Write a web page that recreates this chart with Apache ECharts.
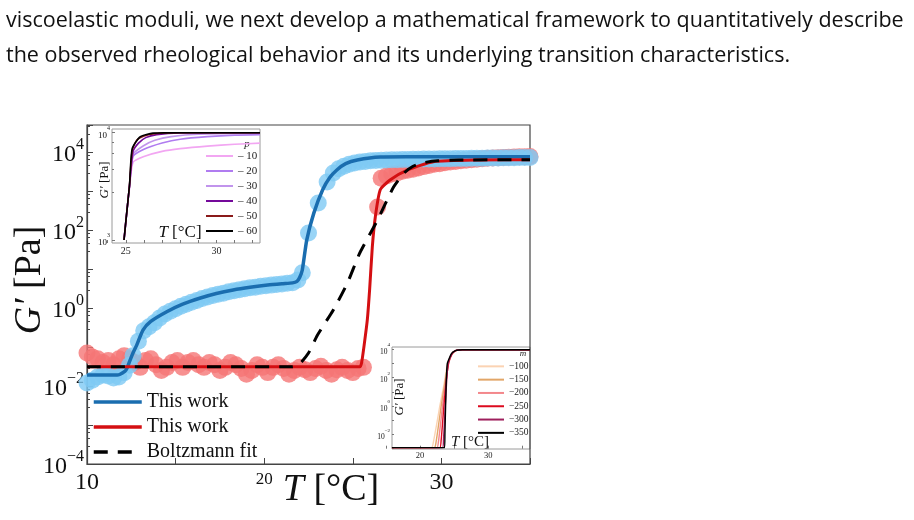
<!DOCTYPE html>
<html>
<head>
<meta charset="utf-8">
<title>G' vs T</title>
<script src="https://cdn.jsdelivr.net/npm/echarts@6/dist/echarts.min.js"></script>
<style>
  html, body { margin: 0; padding: 0; background: #fff; }
  #chart { width: 914px; height: 520px; }
</style>
</head>
<body>
<div id="chart"></div>
<script>
// ---- values: [T (°C), G' (Pa)] ----
const blueDots = [
  [10.0, 0.012], [10.3, 0.014], [10.6, 0.017], [10.9, 0.019], [11.2, 0.018], [11.5, 0.016],
  [11.8, 0.017], [12.1, 0.022], [12.4, 0.034], [12.6, 0.06], [12.9, 0.14], [13.2, 0.26],
  [13.5, 0.33], [13.8, 0.42], [14.1, 0.55], [14.4, 0.7], [14.7, 0.82], [15.0, 0.95],
  [15.3, 1.1], [15.6, 1.25], [15.9, 1.4], [16.2, 1.55], [16.5, 1.75], [16.8, 1.9],
  [17.1, 2.1], [17.4, 2.25], [17.7, 2.4], [18.0, 2.6], [18.3, 2.75], [18.6, 2.95],
  [18.9, 3.1], [19.2, 3.3], [19.5, 3.4], [19.8, 3.6], [20.1, 3.7], [20.4, 3.85],
  [20.7, 4.0], [21.0, 4.1], [21.3, 4.3], [21.6, 4.4], [21.9, 5.2], [22.15, 8],
  [22.5, 83], [23.05, 490], [23.55, 1700], [23.9, 2900], [24.2, 3700], [24.5, 4300],
  [24.8, 4800], [25.1, 5200], [25.4, 5500], [25.7, 5700], [26.0, 5900], [26.3, 6000],
  [26.6, 6100], [26.9, 6200], [27.2, 6300], [27.5, 6300], [27.8, 6400], [28.1, 6400],
  [28.4, 6500], [28.7, 6500], [29.0, 6600], [29.3, 6600], [29.6, 6600], [29.9, 6700],
  [30.2, 6700], [30.5, 6700], [30.8, 6800], [31.1, 6800], [31.4, 6800], [31.7, 6900],
  [32.0, 6900], [32.3, 6900], [32.6, 7000], [32.9, 7000], [33.2, 7000], [33.5, 7100],
  [33.8, 7100], [34.1, 7100], [34.4, 7200], [34.7, 7200], [35.0, 7200]
];
const redDots = [
  [10.0, 0.07], [10.3, 0.055], [10.6, 0.05], [10.9, 0.04], [11.2, 0.045], [11.5, 0.035],
  [11.8, 0.05], [12.1, 0.06], [12.4, 0.05], [12.7, 0.04], [13.0, 0.03], [13.3, 0.045],
  [13.6, 0.05], [13.9, 0.035], [14.2, 0.025], [14.5, 0.03], [14.8, 0.04], [15.1, 0.045],
  [15.4, 0.03], [15.7, 0.04], [16.0, 0.045], [16.3, 0.035], [16.6, 0.03], [16.9, 0.04],
  [17.2, 0.035], [17.5, 0.025], [17.8, 0.03], [18.1, 0.04], [18.4, 0.035], [18.7, 0.028],
  [19.0, 0.02], [19.3, 0.025], [19.6, 0.035], [19.9, 0.03], [20.2, 0.022], [20.5, 0.03],
  [20.8, 0.035], [21.1, 0.028], [21.4, 0.02], [21.7, 0.025], [22.0, 0.03], [22.3, 0.026],
  [22.6, 0.022], [22.9, 0.028], [23.2, 0.032], [23.5, 0.025], [23.8, 0.02], [24.1, 0.026],
  [24.4, 0.03], [24.7, 0.025], [25.0, 0.022], [25.3, 0.028], [25.6, 0.03],
  [26.4, 390], [26.6, 2100], [26.9, 2400], [27.2, 2700], [27.5, 2900], [27.8, 3200],
  [28.1, 3400], [28.4, 3600], [28.7, 3900], [29.0, 4200], [29.3, 4500], [29.6, 4800],
  [29.9, 5000], [30.2, 5300], [30.5, 5500], [30.8, 5700], [31.1, 5900], [31.4, 6100],
  [31.7, 6300], [32.0, 6500], [32.3, 6700], [32.6, 6900], [32.9, 7000], [33.2, 7100],
  [33.5, 7200], [33.8, 7300], [34.1, 7400], [34.4, 7500], [34.7, 7500], [35.0, 7600]
];
const blueFit = [
  [10, 0.019], [11.7, 0.019], [12.15, 0.024], [12.26, 0.029], [12.4, 0.042], [12.6, 0.071],
  [12.8, 0.11], [13.16, 0.27], [13.6, 0.45], [14.5, 0.8], [15.4, 1.25], [16.4, 1.8],
  [17.3, 2.35], [18.25, 2.9], [19.2, 3.4], [20.2, 3.9], [21.0, 4.2], [21.6, 4.4],
  [21.85, 4.8], [22.0, 6], [22.15, 9.4], [22.4, 55], [22.8, 270], [23.3, 1070],
  [23.7, 2200], [24.1, 3450], [24.6, 5000], [25.25, 6200], [26.55, 7400], [28, 7500], [35, 7500]
];
const redFit = [
  [10, 0.031], [25.4, 0.031], [25.5, 0.04], [25.65, 0.12], [25.82, 0.5], [25.95, 3],
  [26.1, 36], [26.27, 214], [26.55, 1070], [27.1, 1900], [28.1, 3450], [29.55, 5600],
  [32.2, 6200], [35, 6300]
];
const boltzmannFit = [
  [10, 0.031], [21.6, 0.031], [22.0, 0.037], [22.5, 0.07], [23.0, 0.2], [23.9, 0.89],
  [24.7, 4.4], [25.4, 26], [26.4, 180], [27.3, 1260], [27.9, 2900], [28.4, 4300],
  [29.0, 5300], [29.8, 5900], [31, 6200], [35, 6300]
];

// inset 1 (p series)
const pNames = ['– 10', '– 20', '– 30', '– 40', '– 50', '– 60'];
const pColors = ['#f2a6f2', '#b07cf0', '#c194ec', '#74099a', '#8a1a1a', '#000000'];
const pCurves = [
  [[24.9, 1000], [25.05, 1800], [25.2, 3000], [25.4, 5300], [26, 6000], [27, 6700], [28, 7100], [29.5, 7500], [31, 7800], [32.4, 8000]],
  [[24.9, 1000], [25.05, 1800], [25.2, 3100], [25.4, 6000], [26, 7000], [27, 8000], [28, 8700], [29.5, 9200], [31, 9500], [32.4, 9600]],
  [[24.9, 1000], [25.05, 1800], [25.2, 3150], [25.4, 6300], [26, 7600], [26.6, 8500], [27.5, 9200], [29, 9700], [32.4, 9900]],
  [[24.9, 1000], [25.05, 1800], [25.2, 3200], [25.4, 6700], [25.7, 8000], [26.1, 9000], [26.7, 9600], [28, 9950], [32.4, 10000]],
  [[24.9, 1000], [25.05, 1800], [25.2, 3200], [25.35, 6800], [25.6, 8500], [26, 9300], [26.6, 9800], [28, 10000], [32.4, 10000]],
  [[24.9, 1000], [25.05, 1800], [25.2, 3200], [25.35, 7100], [25.8, 9200], [26.5, 9900], [28, 10000], [32.4, 10000]]
];

// inset 2 (m series)
const mNames = ['−100', '−150', '−200', '−250', '−300', '−350'];
const mColors = ['#fbd3b3', '#e2a668', '#f3878b', '#dc0a1e', '#9e1f5c', '#000000'];
const mCurves = [
  [[15.9, 0.0012], [21.7, 0.0012], [21.9, 0.002], [22.4, 0.04], [22.9, 1], [23.5, 30], [24.0, 800], [24.5, 3500], [25.0, 7000], [25.5, 8800], [26.2, 9200], [36.1, 9200]],
  [[15.9, 0.0012], [22.1, 0.0012], [22.3, 0.002], [22.7, 0.04], [23.1, 1], [23.6, 30], [24.1, 900], [24.6, 4000], [25.1, 7500], [25.6, 8800], [26.2, 9200], [36.1, 9200]],
  [[15.9, 0.0012], [22.5, 0.0012], [22.7, 0.003], [23.0, 0.05], [23.3, 1], [23.7, 30], [24.2, 1000], [24.7, 4500], [25.2, 7800], [25.7, 8900], [26.2, 9200], [36.1, 9200]],
  [[15.9, 0.0012], [22.9, 0.0012], [23.1, 0.004], [23.3, 0.06], [23.5, 1], [23.8, 40], [24.2, 1200], [24.7, 5000], [25.2, 8000], [25.7, 9000], [26.2, 9200], [36.1, 9200]],
  [[15.9, 0.0012], [23.3, 0.0012], [23.45, 0.005], [23.6, 0.1], [23.7, 1], [23.9, 50], [24.1, 1000], [24.7, 5200], [25.2, 8100], [25.7, 9000], [26.2, 9200], [36.1, 9200]],
  [[15.9, 0.0012], [23.6, 0.0012], [23.65, 0.01], [23.75, 1], [23.85, 60], [24.0, 1000], [24.6, 5000], [25.2, 8200], [25.7, 9000], [26.2, 9200], [36.1, 9200]]
];

const serif = 'Liberation Serif';

// log-axis label: 10 with a raised exponent, only for every "step"-th decade
function powLabel(step) {
  return function (v) {
    const e = Math.round(Math.log10(v) * 1000) / 1000;
    if (e !== Math.round(e) || e % step !== 0) return '';
    return '{b|10}{sup|' + String(e).replace('-', '−') + '}';
  };
}
function powRich(base, sup) {
  return {
    b: { fontSize: base, fontFamily: serif, color: '#111', verticalAlign: 'bottom', lineHeight: base + 6 },
    sup: { fontSize: sup, fontFamily: serif, color: '#111', verticalAlign: 'top', lineHeight: base + 6 }
  };
}
function italicFirst(txt, size) {
  return { text: txt, fontFamily: serif, fontSize: size, fill: '#111', align: 'center', verticalAlign: 'middle',
    rich: { i: { fontStyle: 'italic', fontFamily: serif, fontSize: size, fill: '#111' } } };
}

const chart = echarts.init(document.getElementById('chart'));

const series = [
  { type: 'scatter', xAxisIndex: 0, yAxisIndex: 0, data: redDots, symbolSize: 17,
    itemStyle: { color: '#f57575' }, z: 1, silent: true },
  { type: 'scatter', xAxisIndex: 0, yAxisIndex: 0, data: blueDots, symbolSize: 17,
    itemStyle: { color: '#7ec9f4' }, z: 2, silent: true },
  { name: 'This work', type: 'line', xAxisIndex: 0, yAxisIndex: 0, data: blueFit, symbol: 'none',
    smooth: 0.2, lineStyle: { color: '#1a6daf', width: 3.5 }, itemStyle: { color: '#1a6daf' }, z: 3 },
  { name: 'This work ', type: 'line', xAxisIndex: 0, yAxisIndex: 0, data: redFit, symbol: 'none',
    smooth: 0.2, lineStyle: { color: '#d40f12', width: 3 }, itemStyle: { color: '#d40f12' }, z: 3 },
  { name: 'Boltzmann fit', type: 'line', xAxisIndex: 0, yAxisIndex: 0, data: boltzmannFit, symbol: 'none',
    smooth: 0.2, lineStyle: { color: '#000', width: 3, type: [14, 10] }, itemStyle: { color: '#000' }, z: 4 }
];
pCurves.forEach((d, i) => series.push({
  name: pNames[i], type: 'line', xAxisIndex: 1, yAxisIndex: 1, data: d, symbol: 'none', smooth: 0.2,
  lineStyle: { color: pColors[i], width: 1.6 }, itemStyle: { color: pColors[i] }, z: 5
}));
mCurves.forEach((d, i) => series.push({
  name: mNames[i], type: 'line', xAxisIndex: 2, yAxisIndex: 2, data: d, symbol: 'none', smooth: 0.15,
  lineStyle: { color: mColors[i], width: 1.4 }, itemStyle: { color: mColors[i] }, z: 5
}));

const option = {
  animation: false,
  backgroundColor: '#fff',
  grid: [
    { left: 87, top: 125, width: 443, height: 339, show: true, borderColor: '#444', borderWidth: 1.2 },
    { left: 107.7, top: 132.7, width: 152.3, height: 107.3 },
    { left: 385.8, top: 349.3, width: 144.2, height: 99.4 }
  ],
  xAxis: [
    { type: 'value', gridIndex: 0, min: 10, max: 35, interval: 5,
      axisLine: { lineStyle: { color: '#444', width: 1.2 } },
      axisTick: { inside: true, length: 6, lineStyle: { color: '#444' } },
      splitLine: { show: false },
      axisLabel: { margin: 7, fontFamily: serif, fontSize: 24, color: '#111',
        formatter: v => v === 20 ? '{s|20}' : (v === 10 || v === 30 ? String(v) : ''),
        rich: { s: { fontSize: 17, fontFamily: serif, color: '#111' } } } },
    { type: 'value', gridIndex: 1, min: 24, max: 32.4, interval: 1, offset: 3,
      axisLine: { show: false },
      axisTick: { inside: true, length: 3, lineStyle: { color: '#777' } },
      splitLine: { show: false },
      axisLabel: { margin: 3, fontFamily: serif, fontSize: 10, color: '#222', showMaxLabel: false,
        formatter: v => (v === 25 || v === 30) ? String(v) : '' } },
    { type: 'value', gridIndex: 2, min: 15, max: 36.1, interval: 5,
      axisLine: { show: false },
      axisTick: { inside: true, length: 3, lineStyle: { color: '#777' } },
      splitLine: { show: false },
      axisLabel: { margin: 3, fontFamily: serif, fontSize: 8.5, color: '#222', showMaxLabel: false,
        formatter: v => (v === 20 || v === 30) ? String(v) : '' } }
  ],
  yAxis: [
    { type: 'log', logBase: 10, gridIndex: 0, min: 1e-4, max: 49000,
      axisLine: { lineStyle: { color: '#444', width: 1.2 } },
      axisTick: { inside: true, length: 6, lineStyle: { color: '#444' } },
      minorTick: { show: true, splitNumber: 5, length: 3, lineStyle: { color: '#444' } },
      splitLine: { show: false }, minorSplitLine: { show: false },
      axisLabel: { margin: 3, formatter: powLabel(2), rich: powRich(24, 16) } },
    { type: 'log', logBase: 10, gridIndex: 1, min: 1000, max: 10000, offset: -4.3,
      axisLine: { show: false },
      axisTick: { inside: true, length: 3, lineStyle: { color: '#777' } },
      minorTick: { show: true, splitNumber: 5, length: 2, lineStyle: { color: '#777' } },
      splitLine: { show: false }, minorSplitLine: { show: false },
      axisLabel: { margin: 2, formatter: powLabel(1), rich: powRich(9, 6) } },
    { type: 'log', logBase: 10, gridIndex: 2, min: 0.001, max: 10000, offset: -6.2,
      axisLine: { show: false },
      axisTick: { inside: true, length: 2, lineStyle: { color: '#777' } },
      splitLine: { show: false }, minorSplitLine: { show: false },
      axisLabel: { margin: 2, formatter: powLabel(2), rich: powRich(7.5, 5) } }
  ],
  legend: [
    { data: ['This work', 'This work ', 'Boltzmann fit'], orient: 'vertical', left: 92, top: 392,
      padding: 0, itemWidth: 48, itemHeight: 14, itemGap: 5, selectedMode: false,
      itemStyle: { opacity: 0 }, lineStyle: { width: 3.5 },
      textStyle: { fontFamily: serif, fontSize: 20, lineHeight: 20, color: '#111' } },
    { data: pNames, orient: 'vertical', left: 205, top: 150, padding: 0, itemWidth: 27, itemHeight: 8,
      itemGap: 3, selectedMode: false, itemStyle: { opacity: 0 }, lineStyle: { width: 2 },
      textStyle: { fontFamily: serif, fontSize: 11, lineHeight: 12, color: '#222' } },
    { data: mNames, orient: 'vertical', left: 477, top: 361, padding: 0, itemWidth: 26, itemHeight: 7,
      itemGap: 2.6, selectedMode: false, itemStyle: { opacity: 0 }, lineStyle: { width: 2 },
      textStyle: { fontFamily: serif, fontSize: 9.5, lineHeight: 10.7, color: '#222' } }
  ],
  graphic: [
    // inset frames
    { type: 'rect', z: -1, shape: { x: 112, y: 129, width: 148, height: 114 },
      style: { fill: '#fff', stroke: '#9a9a9a', lineWidth: 1 } },
    { type: 'rect', z: -1, shape: { x: 392, y: 347, width: 138, height: 102 },
      style: { fill: '#fff', stroke: '#9a9a9a', lineWidth: 1 } },
    // paragraph above the figure
    { type: 'text', left: 6, top: 10, style: { text: 'viscoelastic moduli, we next develop a mathematical framework to quantitatively describe',
      font: '21.5px "Open Sans"', fill: '#111' } },
    { type: 'text', left: 6, top: 45, style: { text: 'the observed rheological behavior and its underlying transition characteristics.',
      font: '21.5px "Open Sans"', fill: '#111' } },
    // main axis titles
    { type: 'text', x: 331, y: 490, style: italicFirst('{i|T} [°C]', 38) },
    { type: 'text', x: 30, y: 280, rotation: Math.PI / 2, style: italicFirst('{i|G′} [Pa]', 38) },
    // inset 1 labels
    { type: 'text', x: 105, y: 180, rotation: Math.PI / 2, style: italicFirst('{i|G′} [Pa]', 13) },
    { type: 'text', x: 180, y: 233, style: italicFirst('{i|T} [°C]', 17) },
    { type: 'text', x: 247, y: 144, style: { text: 'p', font: 'italic 11px ' + serif, fill: '#222', align: 'center', verticalAlign: 'middle' } },
    // inset 2 labels
    { type: 'text', x: 400, y: 397, rotation: Math.PI / 2, style: italicFirst('{i|G′} [Pa]', 13) },
    { type: 'text', x: 470, y: 442, z: 10, style: italicFirst('{i|T} [°C]', 15) },
    { type: 'text', x: 523, y: 354, style: { text: 'm', font: 'italic 9px ' + serif, fill: '#222', align: 'center', verticalAlign: 'middle' } }
  ],
  series: series
};

chart.setOption(option);
</script>
</body>
</html>
